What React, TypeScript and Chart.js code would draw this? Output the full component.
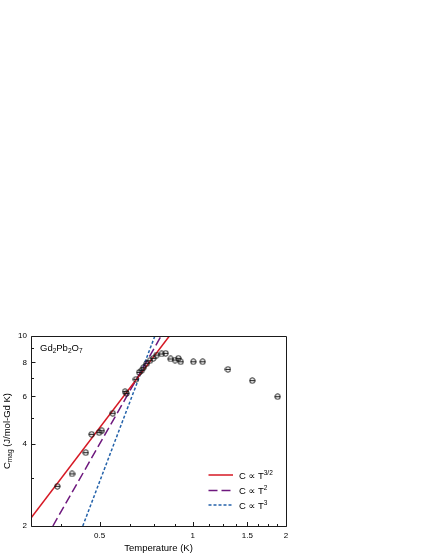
import React, { useEffect, useRef } from "react";
import { Chart, registerables } from "chart.js";

Chart.register(...registerables);

// Measured data: magnetic heat capacity of Gd2Pb2O7
const temperatureK = [0.365, 0.407, 0.451, 0.471, 0.498, 0.508, 0.551, 0.604, 0.611, 0.655, 0.671, 0.684, 0.692, 0.71, 0.727, 0.745, 0.764, 0.793, 0.817, 0.848, 0.876, 0.898, 0.914, 1.004, 1.076, 1.299, 1.556, 1.88];
const cMag = [2.8, 3.11, 3.72, 4.35, 4.41, 4.48, 5.2, 6.24, 6.15, 6.93, 7.35, 7.48, 7.64, 7.91, 8.11, 8.28, 8.51, 8.59, 8.64, 8.23, 8.16, 8.28, 8.04, 8.04, 8.04, 7.54, 6.85, 5.98];

// Power-law guide lines (end points)
const fit32T = [0.3, 0.84];
const fit32C = [2.14, 10];
const fit2T = [0.353, 0.79];
const fit2C = [2, 10];
const fit3T = [0.441, 0.754];
const fit3C = [2, 10];

// Axis ticks
const xMajorTicks = [0.5, 1, 1.5, 2];
const xMinorTicks = [0.375, 0.625, 0.75, 0.875, 1.125, 1.25, 1.375, 1.625, 1.75, 1.875];
const yMajorTicks = [2, 4, 6, 8, 10];
const yMinorTicks = [3, 5, 7, 9];

const RED = "rgb(214,24,36)";
const PURPLE = "rgb(110,24,126)";
const BLUE = "rgb(36,98,170)";
const FF = '"Liberation Sans", Arial, "DejaVu Sans", sans-serif';

type Seg = { t: string; size: number; dy: number };

function richWidth(ctx: CanvasRenderingContext2D, segs: Seg[]) {
  let w = 0;
  for (const s of segs) {
    ctx.font = `${s.size}px ${FF}`;
    w += ctx.measureText(s.t).width;
  }
  return w;
}

function drawRich(ctx: CanvasRenderingContext2D, segs: Seg[], x: number, y: number) {
  let cx = x;
  ctx.textBaseline = "alphabetic";
  ctx.textAlign = "left";
  for (const s of segs) {
    ctx.font = `${s.size}px ${FF}`;
    ctx.fillText(s.t, cx, y + s.dy);
    cx += ctx.measureText(s.t).width;
  }
}

const decorPlugin = {
  id: "decor",
  afterDraw(chart: any) {
    const { ctx, chartArea: a, scales } = chart;
    const xs = scales.x;
    const ys = scales.y;
    const L = Math.floor(a.left) + 0.5;
    const R = Math.floor(a.right) + 0.5;
    const T = Math.floor(a.top) + 0.5;
    const B = Math.floor(a.bottom) + 0.5;
    ctx.save();
    ctx.strokeStyle = "#1a1a1a";
    ctx.lineWidth = 1;
    ctx.setLineDash([]);
    ctx.beginPath();
    ctx.moveTo(L, T);
    ctx.lineTo(R, T);
    ctx.lineTo(R, B);
    ctx.lineTo(L, B);
    ctx.closePath();
    ctx.stroke();

    const tick = (x1: number, y1: number, x2: number, y2: number) => {
      ctx.beginPath();
      ctx.moveTo(x1, y1);
      ctx.lineTo(x2, y2);
      ctx.stroke();
    };
    for (const v of yMajorTicks) {
      const y = Math.round(ys.getPixelForValue(v)) + 0.5;
      tick(L, y, L + 4, y);
    }
    for (const v of yMinorTicks) {
      const y = Math.round(ys.getPixelForValue(v)) + 0.5;
      tick(L, y, L + 2.5, y);
    }
    for (const v of xMajorTicks) {
      const x = Math.round(xs.getPixelForValue(v)) + 0.5;
      tick(x, B, x, B - 4.5);
    }
    for (const v of xMinorTicks) {
      const x = Math.round(xs.getPixelForValue(v)) + 0.5;
      tick(x, B, x, B - 2.5);
    }

    ctx.fillStyle = "#000";
    // x title
    const xt: Seg[] = [{ t: "Temperature (K)", size: 9.5, dy: 0 }];
    const xw = richWidth(ctx, xt);
    drawRich(ctx, xt, (a.left + a.right) / 2 - xw / 2, 550.5);

    // y title (rotated)
    const yt: Seg[] = [
      { t: "C", size: 9.5, dy: 0 },
      { t: "mag", size: 6.5, dy: 2.5 },
      { t: " (J/mol-Gd K)", size: 9.5, dy: 0 },
    ];
    const yw = richWidth(ctx, yt);
    ctx.save();
    ctx.translate(9.5, (a.top + a.bottom) / 2);
    ctx.rotate(-Math.PI / 2);
    drawRich(ctx, yt, -yw / 2, 0);
    ctx.restore();

    // compound label
    drawRich(
      ctx,
      [
        { t: "Gd", size: 9.5, dy: 0 },
        { t: "2", size: 6.5, dy: 2.5 },
        { t: "Pb", size: 9.5, dy: 0 },
        { t: "2", size: 6.5, dy: 2.5 },
        { t: "O", size: 9.5, dy: 0 },
        { t: "7", size: 6.5, dy: 2.5 },
      ],
      a.left + 9,
      350.5
    );

    // legend
    const items = [
      { color: RED, dash: [] as number[], sup: "3/2", y: 475 },
      { color: PURPLE, dash: [9, 4], sup: "2", y: 490.5 },
      { color: BLUE, dash: [3, 2], sup: "3", y: 505 },
    ];
    for (const it of items) {
      ctx.strokeStyle = it.color;
      ctx.lineWidth = 1.5;
      ctx.setLineDash(it.dash);
      ctx.beginPath();
      ctx.moveTo(208.5, it.y);
      ctx.lineTo(233, it.y);
      ctx.stroke();
      ctx.setLineDash([]);
      ctx.fillStyle = "#000";
      drawRich(
        ctx,
        [
          { t: "C \u221D T", size: 9.5, dy: 0 },
          { t: it.sup, size: 6.5, dy: -3.8 },
        ],
        239,
        it.y + 3.5
      );
    }
    ctx.restore();
  },
};

export default function App() {
  const ref = useRef<HTMLCanvasElement | null>(null);
  useEffect(() => {
    if (!ref.current) return;
    const m = document.createElement("canvas");
    m.width = 7;
    m.height = 7;
    const mc = m.getContext("2d")!;
    mc.strokeStyle = "#151515";
    mc.lineWidth = 1;
    mc.beginPath();
    mc.arc(3.5, 3.5, 2.7, 0, Math.PI * 2);
    mc.stroke();
    mc.beginPath();
    mc.moveTo(1, 3.5);
    mc.lineTo(6, 3.5);
    mc.stroke();

    const pts = temperatureK.map((t, i) => ({ x: t, y: cMag[i] }));
    const line = (ts: number[], cs: number[]) => ts.map((t, i) => ({ x: t, y: cs[i] }));

    const tickFont = { family: FF, size: 8 };
    const chart = new Chart(ref.current, {
      type: "scatter",
      data: {
        datasets: [
          {
            data: pts,
            pointStyle: m as any,
            pointRadius: 3,
            showLine: false,
          },
          {
            data: line(fit32T, fit32C),
            showLine: true,
            borderColor: RED,
            borderWidth: 1.5,
            pointRadius: 0,
          },
          {
            data: line(fit2T, fit2C),
            showLine: true,
            borderColor: PURPLE,
            borderWidth: 1.5,
            borderDash: [9, 4],
            pointRadius: 0,
          },
          {
            data: line(fit3T, fit3C),
            showLine: true,
            borderColor: BLUE,
            borderWidth: 1.5,
            borderDash: [3, 2],
            pointRadius: 0,
          },
        ],
      },
      options: {
        animation: false,
        responsive: false,
        devicePixelRatio: 1,
        layout: { padding: { left: 0, top: 336, right: 143, bottom: 0 } },
        plugins: { legend: { display: false }, tooltip: { enabled: false } },
        scales: {
          x: {
            type: "logarithmic",
            min: 0.3,
            max: 2,
            grid: { display: false, drawTicks: false },
            border: { display: false },
            afterBuildTicks: (s: any) => {
              s.ticks = xMajorTicks.map((v) => ({ value: v }));
            },
            afterFit: (s: any) => {
              s.height = 29;
            },
            ticks: {
              autoSkip: false,
              maxRotation: 0,
              padding: 5,
              color: "#000",
              font: tickFont,
              callback: (v: any) => String(v),
            },
          },
          y: {
            type: "logarithmic",
            min: 2,
            max: 10,
            grid: { display: false, drawTicks: false },
            border: { display: false },
            afterBuildTicks: (s: any) => {
              s.ticks = yMajorTicks.map((v) => ({ value: v }));
            },
            afterFit: (s: any) => {
              s.width = 31;
            },
            ticks: {
              autoSkip: false,
              padding: 4,
              color: "#000",
              font: tickFont,
              callback: (v: any) => String(v),
            },
          },
        },
      },
      plugins: [decorPlugin],
    });
    return () => chart.destroy();
  }, []);

  return (
    <canvas
      ref={ref}
      width={429}
      height={555}
      style={{ position: "fixed", left: 0, top: 0, width: 429, height: 555 }}
    />
  );
}
